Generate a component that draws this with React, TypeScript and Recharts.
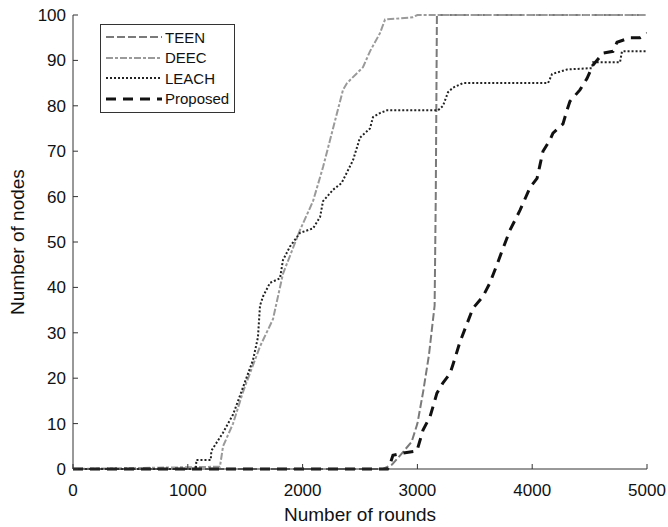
import { LineChart, Line, XAxis, YAxis } from 'recharts';

const xTicks = [0, 1000, 2000, 3000, 4000, 5000];
const yTicks = [0, 10, 20, 30, 40, 50, 60, 70, 80, 90, 100];

const teenRounds = [0, 2700, 2780, 2850, 2950, 3000, 3050, 3100, 3150, 3160, 3170, 5000];
const teenNodes = [0, 0, 1, 3, 6, 10, 17, 25, 36, 60, 100, 100];

const deecRounds = [0, 1280, 1307, 1394, 1481, 1629, 1742, 1829, 1977, 2091, 2178, 2265, 2352, 2387, 2526, 2587, 2674, 2718, 2960, 3000, 5000];
const deecNodes = [0, 0.5, 5, 10, 17, 27, 33, 43, 52.6, 59, 66.5, 75, 83.5, 85, 88.5, 92, 96, 99, 99.5, 100, 100];

const leachRounds = [0, 1070, 1075, 1200, 1205, 1307, 1394, 1481, 1568, 1611, 1629, 1655, 1716, 1803, 1829, 1890, 1977, 2091, 2152, 2178, 2265, 2340, 2439, 2500, 2587, 2613, 2674, 2735, 3180, 3223, 3267, 3310, 3397, 4138, 4173, 4303, 4521, 4530, 4765, 4782, 5000];
const leachNodes = [0, 0, 2, 2, 4, 8, 12, 18, 24, 29, 36, 38, 41, 42, 46, 49, 52, 53, 55.5, 59, 61.5, 63, 68, 73, 75, 77.5, 78.4, 79, 79, 80, 83, 84, 85, 85, 87, 88, 88.3, 89.6, 89.6, 92, 92];

const propRounds = [0, 2740, 2761, 2787, 2875, 2996, 3049, 3110, 3170, 3223, 3284, 3310, 3371, 3432, 3484, 3571, 3632, 3693, 3737, 3806, 3894, 3981, 4042, 4068, 4094, 4155, 4181, 4268, 4303, 4329, 4416, 4477, 4530, 4617, 4704, 4739, 4852, 4939, 5000];
const propNodes = [0, 0, 1, 3, 3.5, 4, 8.6, 11.5, 16.7, 19, 21, 23, 28, 32, 35.4, 38, 41, 45, 48, 52.6, 57, 62, 64, 67, 70, 72.5, 74, 76, 79, 81, 83.5, 86, 89, 91.6, 92, 94, 95, 95, 96];

const toPoints = (xs: number[], ys: number[]) => xs.map((x, i) => ({ x, y: ys[i] }));

const series = [
  { name: 'TEEN', data: toPoints(teenRounds, teenNodes), color: '#7a7a7a', dash: '8 3', width: 2 },
  { name: 'DEEC', data: toPoints(deecRounds, deecNodes), color: '#9a9a9a', dash: '7 2 3 2', width: 2 },
  { name: 'LEACH', data: toPoints(leachRounds, leachNodes), color: '#222', dash: '2 2', width: 2 },
  { name: 'Proposed', data: toPoints(propRounds, propNodes), color: '#111', dash: '10 7', width: 3 },
];

const font = '"Liberation Sans", Arial, sans-serif';
const hidden = () => '';

const LegendBox = () => (
  <div
    style={{
      position: 'absolute',
      left: 100,
      top: 24,
      border: '1.5px solid #333',
      background: '#fff',
      width: 133,
      padding: '2px 0 3px',
      fontFamily: font,
      fontSize: 15,
      color: '#111',
    }}
  >
    {series.map((s) => (
      <div key={s.name} style={{ display: 'flex', alignItems: 'center', height: 20.5 }}>
        <svg width={58} height={10} style={{ marginLeft: 5 }}>
          <line x1={0} y1={5} x2={56} y2={5} stroke={s.color} strokeWidth={s.width} strokeDasharray={s.dash} />
        </svg>
        <span style={{ marginLeft: 1 }}>{s.name}</span>
      </div>
    ))}
  </div>
);

export default function App() {
  return (
    <div style={{ position: 'absolute', left: 0, top: 0, background: '#fff', width: 668, height: 527 }}>
      <LineChart width={668} height={527} margin={{ top: 15, right: 21, left: 0, bottom: 0 }}>
        <XAxis
          dataKey="x"
          type="number"
          domain={[0, 5000]}
          ticks={xTicks}
          allowDataOverflow
          height={58}
          tickSize={-5}
          tickMargin={20}
          stroke="#333"
          tick={{ fill: '#111', fontSize: 17, fontFamily: font }}
          label={{ value: 'Number of rounds', position: 'insideBottom', offset: 6, fill: '#111', fontSize: 19, fontFamily: font }}
        />
        <XAxis
          xAxisId="top"
          orientation="top"
          dataKey="x"
          type="number"
          domain={[0, 5000]}
          ticks={xTicks}
          height={0}
          tickSize={-5}
          tickFormatter={hidden}
          stroke="#333"
        />
        <YAxis
          type="number"
          domain={[0, 100]}
          ticks={yTicks}
          width={73}
          tickSize={-5}
          tickMargin={12}
          stroke="#333"
          tick={{ fill: '#111', fontSize: 17, fontFamily: font }}
          label={{ value: 'Number of nodes', angle: -90, position: 'insideLeft', offset: 17, fill: '#111', fontSize: 19, fontFamily: font, style: { textAnchor: 'middle' } }}
        />
        <YAxis
          yAxisId="right"
          orientation="right"
          type="number"
          domain={[0, 100]}
          ticks={yTicks}
          width={0}
          tickSize={-5}
          tickFormatter={hidden}
          stroke="#333"
        />
        {series.map((s) => (
          <Line
            key={s.name}
            data={s.data}
            dataKey="y"
            name={s.name}
            type="linear"
            stroke={s.color}
            strokeWidth={s.width}
            strokeDasharray={s.dash}
            dot={false}
            isAnimationActive={false}
          />
        ))}
      </LineChart>
      <LegendBox />
    </div>
  );
}
